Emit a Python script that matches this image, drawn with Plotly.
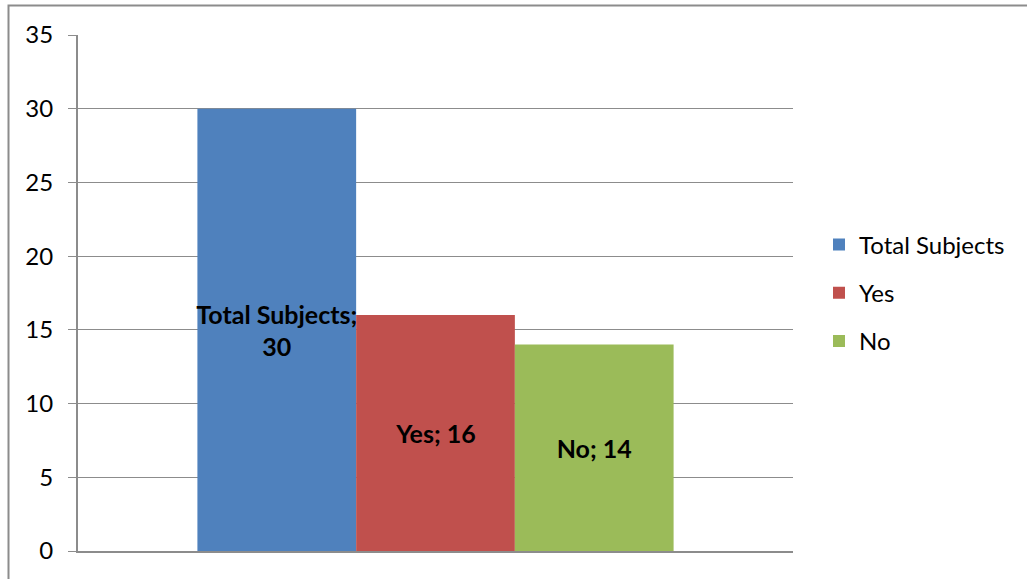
import plotly.graph_objects as go

# Survey response counts
series_names = ["Total Subjects", "Yes", "No"]
series_values = [30, 16, 14]
series_colors = ["#4F81BD", "#C0504D", "#9BBB59"]
category = [""]

y_ticks = [0, 5, 10, 15, 20, 25, 30, 35]

FONT = "Lato, Calibri, sans-serif"
GRID = "#8C8C8C"
LABEL_SIZE = 25

fig = go.Figure()
for i, (name, val, col) in enumerate(zip(series_names, series_values, series_colors)):
    sep = ";<br>" if len(name) > 10 else "; "
    fig.add_trace(go.Bar(
        x=category,
        y=[val],
        name=name,
        marker=dict(color=col, line=dict(width=0)),
        text=[f"{name}{sep}{val}"],
        textposition="inside",
        insidetextanchor="middle",
        textangle=0,
        textfont=dict(family=FONT, size=LABEL_SIZE, color="black", weight="bold"),
        legendgroup=f"g{i}",
        hoverinfo="skip",
    ))

W, H = 1027, 579
L, R, T, B = 78, 234, 35, 28
pw, ph = W - L - R, H - T - B

fig.update_layout(
    width=W, height=H,
    margin=dict(l=L, r=R, t=T, b=B),
    paper_bgcolor="white",
    plot_bgcolor="white",
    barmode="group",
    bargap=0.334,
    bargroupgap=0,
    uniformtext=dict(minsize=LABEL_SIZE, mode="show"),
    font=dict(family=FONT, size=24, color="black"),
    legend=dict(
        x=(819 - L) / pw, y=(H - B - 293) / ph,
        xanchor="left", yanchor="middle",
        traceorder="grouped",
        tracegroupgap=14,
        font=dict(family=FONT, size=24, color="black"),
        bgcolor="rgba(0,0,0,0)",
        itemwidth=30,
    ),
    xaxis=dict(
        showline=True, linecolor=GRID, linewidth=2,
        ticks="", showticklabels=False, showgrid=False,
        range=[-0.5, 0.5], fixedrange=True,
    ),
    yaxis=dict(
        range=[0, 35], tickvals=y_ticks,
        showgrid=True, gridcolor=GRID, gridwidth=1,
        showline=True, linecolor=GRID, linewidth=2,
        ticks="outside", ticklen=8, tickcolor=GRID, tickwidth=1,
        ticklabelstandoff=10,
        tickfont=dict(family=FONT, size=24, color="black"),
        zeroline=False,
    ),
    shapes=[dict(
        type="rect", xref="paper", yref="paper",
        x0=(8.5 - L) / pw, x1=(W + 10 - L) / pw,
        y0=(H - B - (H + 10)) / ph, y1=(H - B - 5.5) / ph,
        line=dict(color="#8C8C8C", width=2), fillcolor="rgba(0,0,0,0)",
        layer="below",
    )],
)

fig.write_html("out.html")
